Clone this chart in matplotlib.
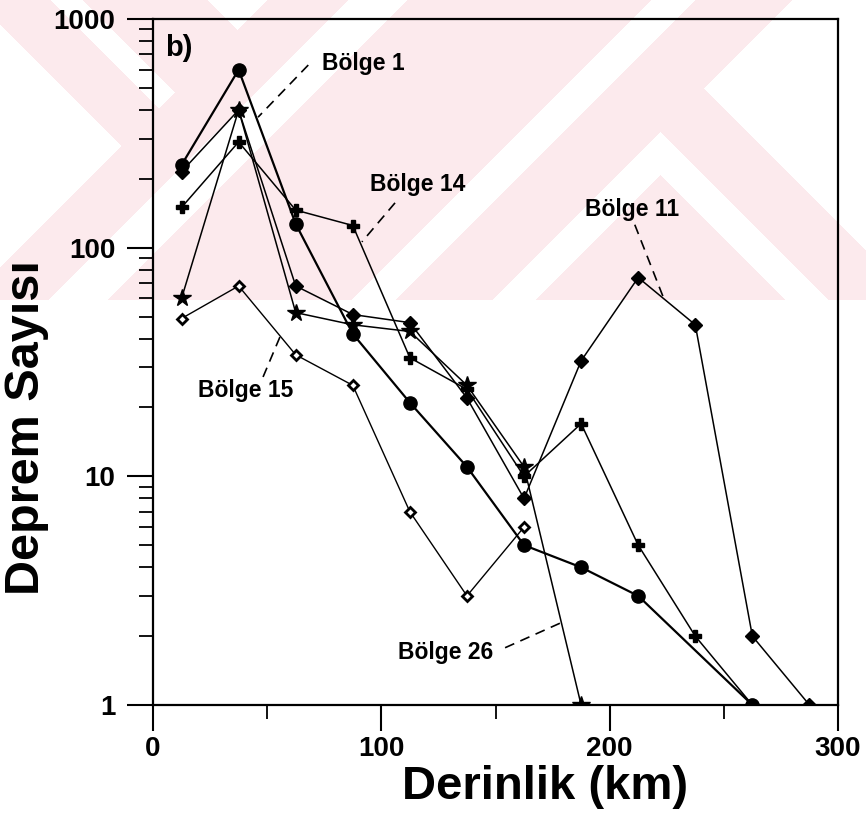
import matplotlib
matplotlib.use("Agg")
import matplotlib.pyplot as plt
import numpy as np
from matplotlib.ticker import LogLocator, MultipleLocator, NullFormatter

plt.rcParams['font.family'] = ['Liberation Sans', 'DejaVu Sans']
plt.rcParams['font.weight'] = 'bold'

# depth bin centres (km) and earthquake counts per region
bolge1_x = [12.5, 37.5, 62.5, 87.5, 112.5, 137.5, 162.5, 187.5, 212.5, 262.5]
bolge1_y = [230, 600, 127, 42, 21, 11, 5, 4, 3, 1]

bolge14_x = [12.5, 37.5, 62.5, 87.5, 112.5, 137.5, 162.5, 187.5, 212.5, 237.5, 262.5]
bolge14_y = [150, 290, 146, 125, 33, 24, 10, 17, 5, 2, 1]

bolge11_x = [12.5, 37.5, 62.5, 87.5, 112.5, 137.5, 162.5, 187.5, 212.5, 237.5, 262.5, 287.5]
bolge11_y = [215, 400, 68, 51, 47, 22, 8, 32, 74, 46, 2, 1]

bolge15_x = [12.5, 37.5, 62.5, 87.5, 112.5, 137.5, 162.5]
bolge15_y = [49, 68, 34, 25, 7, 3, 6]

bolge26_x = [12.5, 37.5, 62.5, 87.5, 112.5, 137.5, 162.5, 187.5]
bolge26_y = [60, 400, 52, 46, 43, 25, 11, 1]

# ---------------- figure + faint watermark in the top band ----------------
W, H = 866, 818
fig = plt.figure(figsize=(W / 100, H / 100), dpi=100)

yy, xx = np.mgrid[0:H, 0:W]
s = xx + yy
d = yy - xx
white = (d > 24) & (s < 267)
white |= (d > -83) & (d < -50) & (s < 267)
white |= (d < -207) & (s < 267)
white |= (s > 347) & (s < 407)
white |= (s > 650) & (s < 695)
white |= (s > 791) & (d < -615)
white |= (s >= 792) & (d >= -528) & ((s <= 834) | (d <= -486))
pink = (~white) & (yy < 300)
img = np.ones((H, W, 3))
img[pink] = np.array([252, 234, 237]) / 255
fig.figimage(img, 0, 0, origin='upper', zorder=-1)

# ---------------- main axes ----------------
ax = fig.add_axes([153 / W, 113 / H, 685 / W, 686 / H])
ax.set_facecolor('none')

ax.plot(bolge11_x, bolge11_y, color='black', lw=1.1, marker='D', ms=7, mfc='black', mec='black')
ax.plot(bolge14_x, bolge14_y, color='black', lw=1.1, marker='P', ms=9, mfc='black', mec='black')
ax.plot(bolge26_x, bolge26_y, color='black', lw=1.1, marker='*', ms=13, mfc='black', mec='black')
ax.plot(bolge15_x, bolge15_y, color='black', lw=1.0, marker='D', ms=5.5, mfc='white', mec='black', mew=2)
ax.plot(bolge1_x, bolge1_y, color='black', lw=1.6, marker='o', ms=9.5, mfc='black', mec='black')

ax.set_yscale('log')
ax.set_xlim(0, 300)
ax.set_ylim(1, 1000)
ax.set_xticks([0, 100, 200, 300])
ax.xaxis.set_minor_locator(MultipleLocator(50))
ax.set_yticks([1, 10, 100, 1000])
ax.set_yticklabels(['1', '10', '100', '1000'])
ax.yaxis.set_minor_locator(LogLocator(base=10, subs=range(2, 10)))
ax.yaxis.set_minor_formatter(NullFormatter())

ax.tick_params(which='major', direction='out', length=19, width=1.5, labelsize=20)
ax.tick_params(which='minor', direction='out', length=10, width=1.3)
ax.tick_params(axis='y', which='major', pad=8)
ax.tick_params(axis='x', which='major', pad=3)
for sp in ax.spines.values():
    sp.set_linewidth(1.6)

# region labels with dashed leaders
lab_kw = dict(fontsize=16.5, fontweight='bold', va='center', ha='left')
dash = dict(color='black', lw=1.2, ls=(0, (6, 4)))

ax.text(5.3, 746, 'b)', fontsize=21, fontweight='bold', va='center', ha='left')

ax.text(74, 640, 'Bölge 1', **lab_kw)
ax.plot([68, 46], [629, 372], **dash)

ax.text(95, 188, 'Bölge 14', **lab_kw)
ax.plot([106, 91.5], [157, 106], **dash)

ax.text(189, 147, 'Bölge 11', **lab_kw)
ax.plot([211, 223.4], [126, 61], **dash)

ax.text(19.7, 23.8, 'Bölge 15', **lab_kw)
ax.plot([48.2, 55.6], [27.2, 40.7], **dash)

ax.text(107.3, 1.7, 'Bölge 26', **lab_kw)
ax.plot([154.2, 178.3], [1.78, 2.28], **dash)

fig.text(545 / W, 1 - 787 / H, 'Derinlik (km)', fontsize=34, fontweight='bold',
         ha='center', va='center')
fig.text(27 / W, 1 - 428 / H, 'Deprem Sayısı', fontsize=35, fontweight='bold',
         ha='center', va='center', rotation=90)

fig.savefig('out.png', dpi=100)
